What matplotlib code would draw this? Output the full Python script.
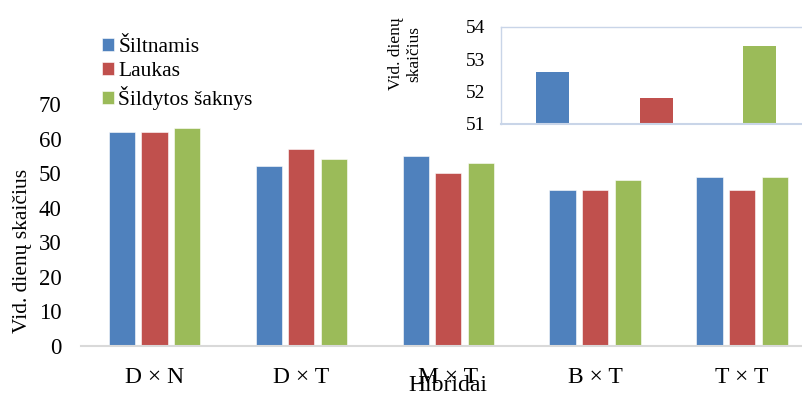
import matplotlib.pyplot as plt
import numpy as np

plt.rcParams['font.family'] = ['Liberation Serif', 'DejaVu Serif']

hibridai = ['D × N', 'D × T', 'M × T', 'B × T', 'T × T']
siltnamis = [62, 52, 55, 45, 49]
laukas = [62, 57, 50, 45, 45]
sildytos = [63, 54, 53, 48, 49]

# vidurkiai visiems hibridams
vidurkiai = [52.6, 51.8, 53.4]

serijos = ['Šiltnamis', 'Laukas', 'Šildytos šaknys']
spalvos = ['#4f81bd', '#c0504d', '#9bbb59']

W, H = 803, 394
fig = plt.figure(figsize=(W / 100, H / 100), dpi=100)

ax = fig.add_axes([81 / W, 1 - 346 / H, 734.5 / W, 242 / H])
x = np.arange(len(hibridai))
plotis = 0.178
for i, (vals, sp, pav) in enumerate(zip([siltnamis, laukas, sildytos], spalvos, serijos)):
    ax.bar(x + (i - 1) * 0.222, vals, plotis, color=sp, label=pav,
           edgecolor='white', linewidth=0.4)

ax.set_xlim(-0.5, len(hibridai) - 0.5)
ax.set_ylim(0, 70)
ax.set_yticks(range(0, 71, 10))
ax.set_xticks(x)
ax.set_xticklabels(hibridai, fontsize=17)
ax.tick_params(axis='both', length=0)
ax.tick_params(axis='y', labelsize=16.5, pad=14)
ax.tick_params(axis='x', pad=15)
for s in ['top', 'right', 'left']:
    ax.spines[s].set_visible(False)
ax.spines['bottom'].set_color('#d9d9d9')
ax.spines['bottom'].set_linewidth(1.5)

fig.text(23 / W, 1 - 251 / H, 'Vid. dienų skaičius', rotation=90,
         ha='center', va='center', fontsize=15.5)
fig.text(448 / W, 1 - 375 / H, 'Hibridai', ha='center', va='top', fontsize=17)

ax.legend(loc='upper left', bbox_to_anchor=(102 / W, 1 - 38 / H),
          bbox_transform=fig.transFigure, frameon=False, fontsize=15.5,
          handlelength=0.55, handleheight=0.55, handletextpad=0.2,
          labelspacing=0.22, borderaxespad=0, borderpad=0)

# mažas grafikas su vidurkiais
ins = fig.add_axes([501 / W, 1 - 124 / H, 310.5 / W, 97.3 / H])
ins.bar(range(3), [v - 51 for v in vidurkiai], 0.32, bottom=51, color=spalvos)
ins.set_xlim(-0.5, 2.5)
ins.set_ylim(51, 54)
ins.set_yticks([51, 52, 53, 54])
ins.set_xticks([])
ins.tick_params(axis='y', length=0, labelsize=14, pad=11)
for s in ins.spines.values():
    s.set_color('#c9d5e8')
    s.set_linewidth(1.0)
ins.spines['bottom'].set_linewidth(1.5)

fig.text(405 / W, 1 - 54 / H, 'Vid. dienų\nskaičius', rotation=90,
         ha='center', va='center', fontsize=12.5, linespacing=1.15,
         multialignment='center')

fig.savefig('out.png', dpi=100)
